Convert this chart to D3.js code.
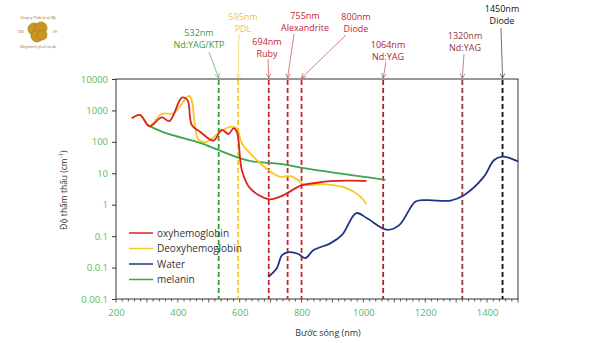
<!DOCTYPE html>
<html><head><meta charset="utf-8">
<script src="https://cdn.jsdelivr.net/npm/d3@7"></script>
<style>body{margin:0;background:#fff}svg{display:block}text{font-family:"Open Sans",sans-serif}</style>
</head><body>
<svg id="c" width="600" height="343"></svg>
<script>
// ---- data ----
const oxyNm  = [251,278,308,348,373,413,431,445,472,515,542,564,580,591,607,634,693,731,800,850,893,950,1010];
const oxyVal = [560,715,316,600,460,2540,2140,345,210,110,240,178,270,210,12.6,3.3,1.5,1.8,4.1,5.0,5.6,5.8,5.7];
const deoNm  = [251,278,308,348,386,437,456,467,494,537,569,591,607,656,693,731,764,790,807,872,947,990,1010];
const deoVal = [560,715,330,780,810,2900,300,115,100,210,300,270,90,26,12.6,7.8,8.1,6.0,4.3,4.5,3.3,1.8,1.05];
const watNm  = [693,720,737,760,790,812,839,893,931,977,1012,1075,1115,1169,1206,1282,1325,1390,1422,1449,1476,1500];
const watVal = [0.0051,0.0095,0.025,0.031,0.027,0.020,0.036,0.059,0.11,0.54,0.37,0.16,0.22,1.26,1.4,1.35,2.0,7.8,26,34,30,24];
const melNm  = [308,364,472,531,602,645,731,807,1071];
const melVal = [316,185,93,55,30,23.5,20,14.5,6.2];
const seriesNames = ["oxyhemoglobin","Deoxyhemoglobin","Water","melanin"];
const seriesColors = ["#d8261f","#f6c827","#1f3580","#3aa54a"];
const yTicks = [10000,1000,100,10,1,0.1,0.01,0.001];
const yTickLabels = ["10000","1000","100","10","1","0.1","0.0.1","0.00.1"];
const xTicks = [200,400,600,800,1000,1200,1400];
const laserNm = [532,595,694,755,800,1064,1320,1450];
const laserName = ["Nd:YAG/KTP","PDL","Ruby","Alexandrite","Diode","Nd:YAG","Nd:YAG","Diode"];
const laserColor = ["#3c9a3c","#f2c530","#c3282e","#c3282e","#c3282e","#a8262b","#8a3a3a","#111111"];
// label positions (text centre x, first-line baseline y) and arrow start
const laserLabelX = [199,243,267,305,356,388,465,502];
const laserLabelY = [35.5,19.5,44.5,18.5,19.5,47.5,38.5,11.5];
const arrowStart = [[209,52],[239,34],[268,59],[294,34],[346,35],[386,62],[464,54],[501,28]];

const svg = d3.select("#c");
const x = d3.scaleLinear().domain([200,1500]).range([116,518]);
const y = d3.scaleLog().domain([0.001,10000]).range([299,79]);

// logo
const lg = svg.append("g");
lg.append("circle").attr("cx",38).attr("cy",33).attr("r",21).attr("fill","#fff");
[[34,29,6],[41,28,6],[37,36,6],[42,35,5]].forEach(c=>lg.append("circle").attr("cx",c[0]).attr("cy",c[1]).attr("r",c[2]).attr("fill","#c9971f").attr("stroke","#a8781a").attr("stroke-width",0.7));
lg.append("text").attr("x",38).attr("y",19).attr("text-anchor","middle").attr("font-size",3.5).attr("fill","#8a6a1a").text("Công ty Thiết bị và Mỹ");
lg.append("text").attr("x",21).attr("y",33).attr("text-anchor","middle").attr("font-size",3).attr("fill","#8a6a1a").text("DDS");
lg.append("text").attr("x",55).attr("y",33).attr("text-anchor","middle").attr("font-size",3).attr("fill","#8a6a1a").text("DH");
lg.append("text").attr("x",38).attr("y",48).attr("text-anchor","middle").attr("font-size",3).attr("fill","#8a6a1a").text("Nâng tầm kĩ yếu tố các dự");

// frame
svg.append("rect").attr("x",x(200)).attr("y",y(10000)).attr("width",x(1500)-x(200)).attr("height",y(0.001)-y(10000))
  .attr("fill","none").attr("stroke","#333").attr("stroke-width",1);

// laser lines
laserNm.forEach((n,i)=>{
  svg.append("line").attr("x1",x(n)).attr("x2",x(n)).attr("y1",y(10000)+1).attr("y2",y(0.001))
    .attr("stroke",laserColor[i]).attr("stroke-width",1.8).attr("stroke-dasharray","5,3");
  svg.append("text").attr("x",laserLabelX[i]).attr("y",laserLabelY[i]).attr("text-anchor","middle")
    .attr("font-size",9).attr("fill",laserColor[i]).text(n+"nm");
  svg.append("text").attr("x",laserLabelX[i]).attr("y",laserLabelY[i]+12).attr("text-anchor","middle")
    .attr("font-size",9).attr("fill",laserColor[i]).text(laserName[i]);
  const [sx,sy] = arrowStart[i], ex = x(n), ey = y(10000)-1;
  const ang = Math.atan2(ey-sy, ex-sx), h=5, a=0.5;
  const ac = d3.color(laserColor[i]); ac.opacity = 0.6;
  svg.append("line").attr("x1",sx).attr("y1",sy).attr("x2",ex).attr("y2",ey).attr("stroke",ac).attr("stroke-width",1);
  svg.append("path").attr("d",`M${ex-h*Math.cos(ang-a)},${ey-h*Math.sin(ang-a)}L${ex},${ey}L${ex-h*Math.cos(ang+a)},${ey-h*Math.sin(ang+a)}`)
    .attr("fill","none").attr("stroke",ac).attr("stroke-width",1);
});

// axes
const yAxis = svg.append("g").attr("transform",`translate(${x(200)},0)`)
  .call(d3.axisLeft(y).tickValues(yTicks).tickFormat((d,i)=>yTickLabels[i]).tickSize(4).tickPadding(4));
yAxis.select(".domain").remove();
yAxis.selectAll("line").attr("stroke","#333");
yAxis.selectAll("text").attr("fill","#5cb85c").attr("font-size",9.5).attr("font-family","Open Sans, sans-serif");

const minor = d3.range(200,1501,20);
svg.append("g").selectAll("line").data(minor).join("line")
  .attr("x1",d=>x(d)).attr("x2",d=>x(d)).attr("y1",y(0.001)).attr("y2",d=>y(0.001)+(d%100===0?3.5:2.5))
  .attr("stroke","#333").attr("stroke-width",0.8);
const xAxis = svg.append("g").attr("transform",`translate(0,${y(0.001)})`)
  .call(d3.axisBottom(x).tickValues(xTicks).tickFormat(d3.format("d")).tickSize(0).tickPadding(10));
xAxis.select(".domain").remove();
xAxis.selectAll("text").attr("fill","#5cb85c").attr("font-size",9.5).attr("font-family","Open Sans, sans-serif");

svg.append("text").attr("x",328).attr("y",336).attr("text-anchor","middle").attr("font-size",9).attr("fill","#333").text("Bước sóng (nm)");
svg.append("text").attr("transform","translate(67,190) rotate(-90)").attr("text-anchor","middle").attr("font-size",8.5).attr("fill","#333")
  .html('Độ thẩm thấu (cm<tspan baseline-shift="super" font-size="6">-1</tspan>)');

// series
const line = d3.line().x(d=>x(d[0])).y(d=>y(d[1])).curve(d3.curveCatmullRom.alpha(0.5));
const data = [d3.zip(oxyNm,oxyVal), d3.zip(deoNm,deoVal), d3.zip(watNm,watVal), d3.zip(melNm,melVal)];
[3,1,0,2].forEach(i=>{
  svg.append("path").datum(data[i]).attr("d",line).attr("fill","none").attr("stroke",seriesColors[i]).attr("stroke-width",1.8);
});

// legend
seriesNames.forEach((s,i)=>{
  const yy = 233 + i*15.5;
  svg.append("line").attr("x1",129).attr("x2",153).attr("y1",yy).attr("y2",yy).attr("stroke",seriesColors[i]).attr("stroke-width",1.5);
  svg.append("text").attr("x",157).attr("y",yy+3.5).attr("font-size",10).attr("fill","#333").text(s);
});
</script>
</body></html>
